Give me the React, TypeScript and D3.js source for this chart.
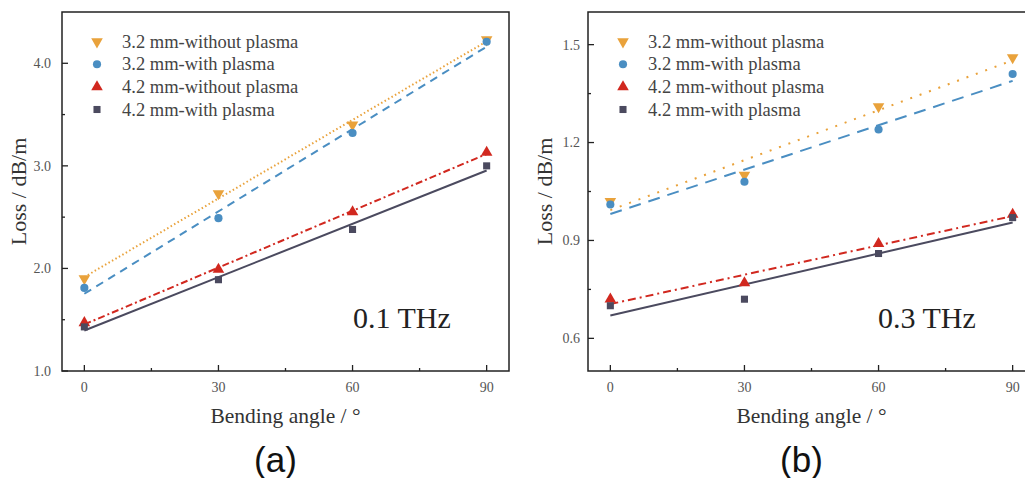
import React from "react";
import * as d3 from "d3";

const angles = [0, 30, 60, 90];
const seriesNames = [
  "3.2 mm-without plasma",
  "3.2 mm-with plasma",
  "4.2 mm-without plasma",
  "4.2 mm-with plasma",
];
// Panel (a) 0.1 THz
const a32Without = [1.9, 2.73, 3.4, 4.23];
const a32With = [1.81, 2.49, 3.32, 4.21];
const a42Without = [1.47, 1.99, 2.55, 3.13];
const a42With = [1.43, 1.89, 2.38, 3.0];
// Panel (b) 0.3 THz
const b32Without = [1.02, 1.1, 1.31, 1.46];
const b32With = [1.01, 1.08, 1.24, 1.41];
const b42Without = [0.72, 0.77, 0.89, 0.98];
const b42With = [0.7, 0.72, 0.86, 0.97];

const xTicks = [0, 30, 60, 90];
const xMinor = [15, 45, 75];
const aYTicks = [1.0, 2.0, 3.0, 4.0];
const aYMinor = [1.5, 2.5, 3.5];
const bYTicks = [0.6, 0.9, 1.2, 1.5];
const bYMinor = [0.75, 1.05, 1.35];

const colors = ["#E9A23B", "#4A8EC2", "#D1281F", "#4B4A5F"];
const symbols = ["down", "circle", "up", "square"];

function fit(xs: number[], ys: number[]) {
  const mx = d3.mean(xs)!;
  const my = d3.mean(ys)!;
  let num = 0, den = 0;
  xs.forEach((x, i) => { num += (x - mx) * (ys[i] - my); den += (x - mx) ** 2; });
  const s = num / den;
  return (x: number) => my + s * (x - mx);
}

function marker(kind: string, cx: number, cy: number, color: string, key: string) {
  let path = "";
  let rot = 0;
  if (kind === "circle") path = d3.symbol(d3.symbolCircle, 52)()!;
  else if (kind === "square") path = d3.symbol(d3.symbolSquare, 50)()!;
  else { path = d3.symbol(d3.symbolTriangle, 58)()!; if (kind === "down") rot = 180; }
  return <path key={key} d={path} fill={color} transform={`translate(${cx},${cy}) rotate(${rot})`} />;
}

const serif = "'Liberation Serif', 'Times New Roman', serif";

function Panel(props: {
  left: number; right: number; top: number; bottom: number;
  yDomain: [number, number]; yTicks: number[]; yMinor: number[];
  data: number[][]; label: string; freq: string; freqX: number;
  dashes: string[]; tickGap: number;
}) {
  const { left, right, top, bottom, yDomain, yTicks, yMinor, data, label, freq, freqX, dashes, tickGap } = props;
  const x = d3.scaleLinear().domain([-5, 95]).range([left, right]);
  const y = d3.scaleLinear().domain(yDomain).range([bottom, top]);
  const line = d3.line<number>().x((d) => x(d)).y(0);
  const cxMid = (left + right) / 2;
  const cyMid = (top + bottom) / 2;
  const fmt = d3.format(".1f");
  return (
    <g>
      {data.map((vals, i) => {
        const f = fit(angles, vals);
        const pts: [number, number][] = [[0, f(0)], [90, f(90)]];
        const lg = d3.line<[number, number]>().x((d) => x(d[0])).y((d) => y(d[1]));
        return (
          <path key={"l" + i} d={lg(pts)!} fill="none" stroke={colors[i]}
            strokeWidth={i === 0 ? 2 : 2}
            strokeDasharray={dashes[i]} />
        );
      })}
      {data.map((vals, i) =>
        vals.map((v, j) => marker(symbols[i], x(angles[j]), y(v), colors[i], `m${i}-${j}`))
      )}
      {/* frame */}
      <rect x={left} y={top} width={right - left} height={bottom - top} fill="none" stroke="#222" strokeWidth={1.5} />
      {xTicks.map((t) => (
        <g key={"xt" + t}>
          <line x1={x(t)} x2={x(t)} y1={bottom} y2={bottom - 6} stroke="#222" strokeWidth={1.3} />
          <text x={x(t)} y={bottom + 21} textAnchor="middle" fontFamily={serif} fontSize={14} fill="#555">{t}</text>
        </g>
      ))}
      {xMinor.map((t) => (
        <line key={"xm" + t} x1={x(t)} x2={x(t)} y1={bottom} y2={bottom - 3} stroke="#222" strokeWidth={1.3} />
      ))}
      {yTicks.map((t) => (
        <g key={"yt" + t}>
          <line x1={left} x2={left + 6} y1={y(t)} y2={y(t)} stroke="#222" strokeWidth={1.3} />
          <text x={left - tickGap} y={y(t)} dy="0.35em" textAnchor="end" fontFamily={serif} fontSize={14} fill="#555">{fmt(t)}</text>
        </g>
      ))}
      {yMinor.map((t) => (
        <line key={"ym" + t} x1={left} x2={left + 3} y1={y(t)} y2={y(t)} stroke="#222" strokeWidth={1.3} />
      ))}
      <text transform={`translate(${left - 36},${cyMid}) rotate(-90)`} textAnchor="middle" fontFamily={serif} fontSize={22} fill="#333">Loss / dB/m</text>
      <text x={cxMid} y={423} textAnchor="middle" fontFamily={serif} fontSize={21.5} fill="#333">Bending angle / °</text>
      <text x={cxMid - 10} y={472} textAnchor="middle" fontFamily="'Liberation Sans', Arial, sans-serif" fontSize={35} fill="#111">{label}</text>
      <text x={freqX} y={328} fontFamily={serif} fontSize={30} fill="#222">{freq}</text>
      {seriesNames.map((n, i) => {
        const ly = 41.7 + i * 22.6;
        return (
          <g key={"lg" + i}>
            {marker(symbols[i], left + 35, ly, colors[i], "lm" + i)}
            <text x={left + 60} y={ly + 6} fontFamily={serif} fontSize={18.5} fill="#444">{n}</text>
          </g>
        );
      })}
    </g>
  );
}

export default function App() {
  return (
    <svg width={1025} height={478} style={{ position: "absolute", left: 0, top: 0, background: "#fff" }}>
      <rect width={1025} height={478} fill="#fff" />
      <Panel left={62} right={509} top={12} bottom={371} yDomain={[1.0, 4.5]} yTicks={aYTicks} yMinor={aYMinor}
        data={[a32Without, a32With, a42Without, a42With]} label="(a)" freq="0.1 THz" freqX={353}
        dashes={["1.5 2.5", "8 6", "7 3 2 3", "none"]} tickGap={11} />
      <Panel left={588} right={1035} top={12} bottom={371} yDomain={[0.5, 1.6]} yTicks={bYTicks} yMinor={bYMinor}
        data={[b32Without, b32With, b42Without, b42With]} label="(b)" freq="0.3 THz" freqX={878}
        dashes={["2 8", "12 8", "8 4 2 4", "none"]} tickGap={8} />
    </svg>
  );
}
